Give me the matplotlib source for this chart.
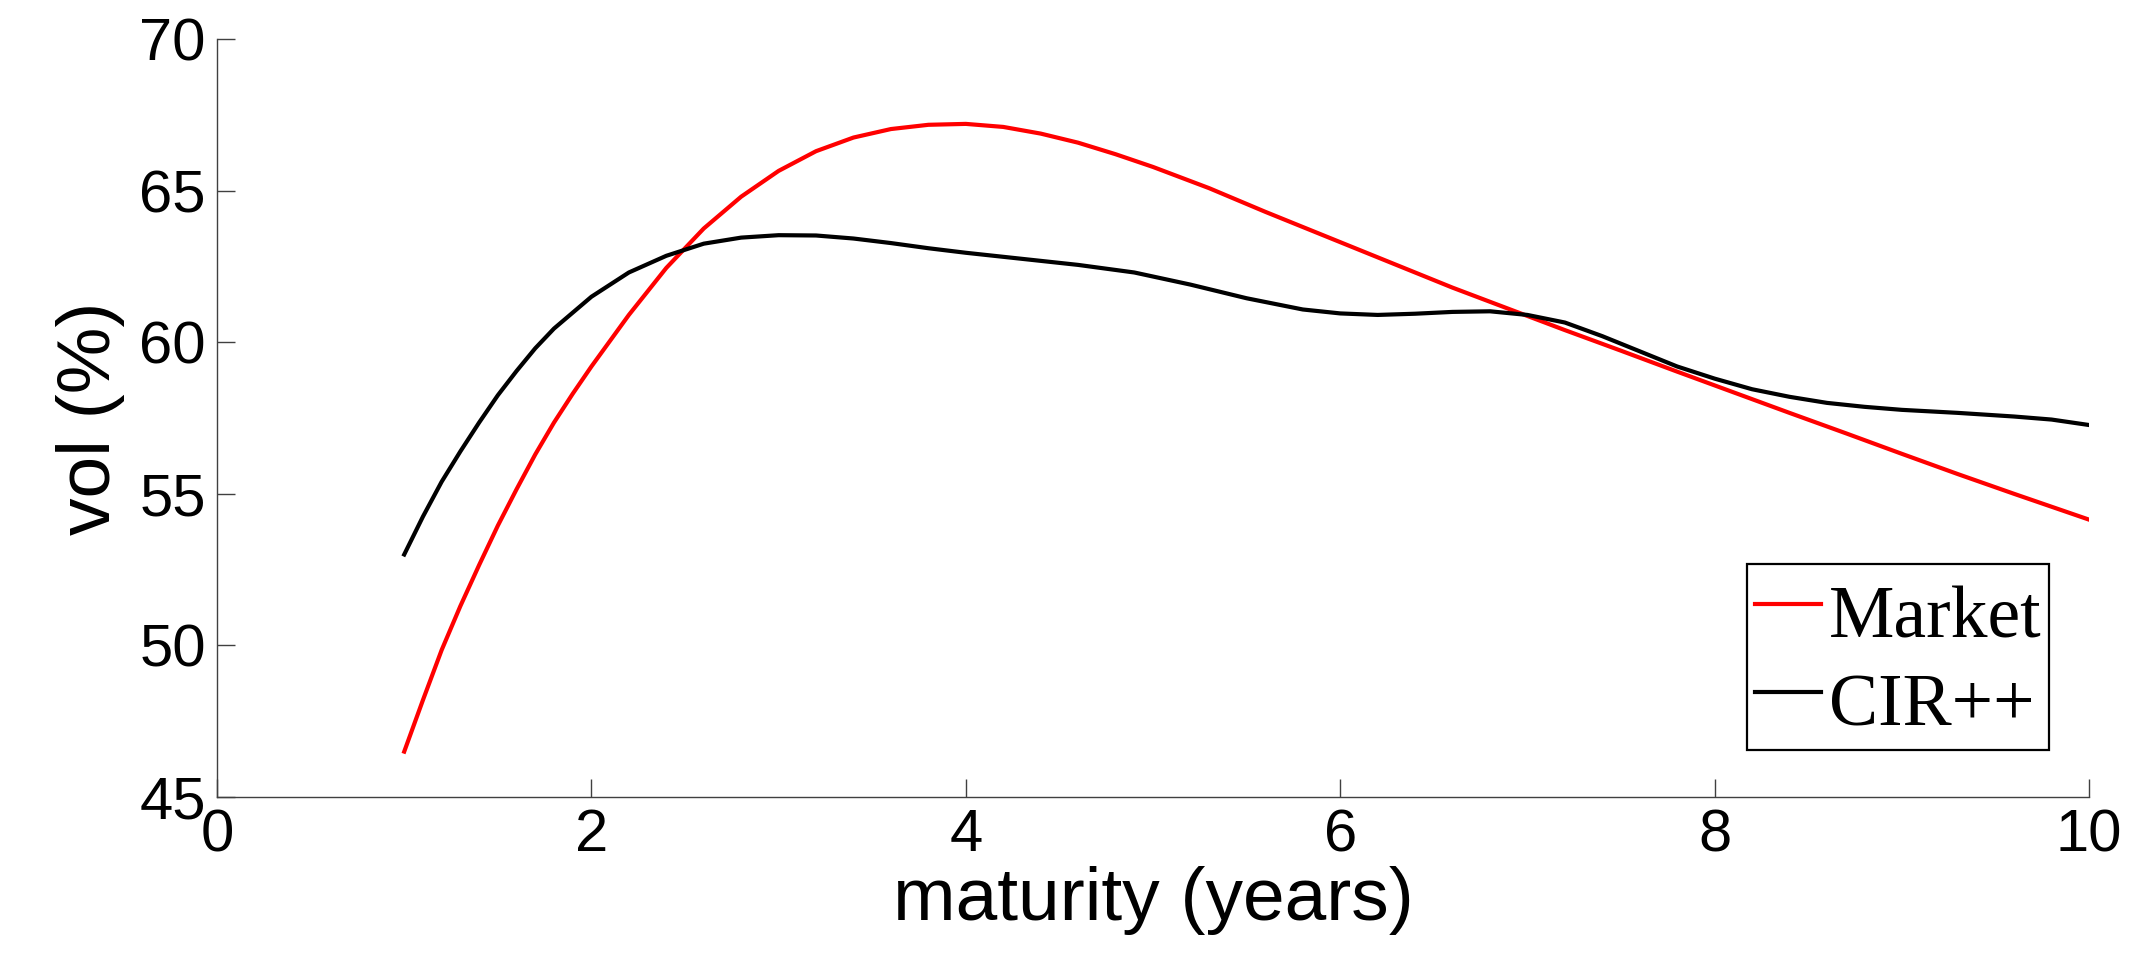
import numpy as np
import matplotlib.pyplot as plt

# maturity grid and vols (in %)
mat_market = [1.0, 1.1, 1.2, 1.3, 1.4, 1.5, 1.6, 1.7, 1.8, 1.9, 2.0, 2.2, 2.4, 2.6,
              2.8, 3.0, 3.2, 3.4, 3.6, 3.8, 4.0, 4.2, 4.4, 4.6, 4.8, 5.0, 5.3, 5.6,
              6.0, 6.3, 6.6, 6.9, 7.2, 7.5, 7.8, 8.1, 8.4, 8.7, 9.0, 9.3, 9.6, 10.0]
vol_market = [46.5, 48.2, 49.85, 51.3, 52.65, 53.95, 55.15, 56.3, 57.35, 58.3, 59.2,
              60.9, 62.45, 63.75, 64.8, 65.65, 66.3, 66.75, 67.03, 67.17, 67.2, 67.1,
              66.88, 66.58, 66.2, 65.78, 65.08, 64.3, 63.3, 62.55, 61.8, 61.1, 60.4,
              59.72, 59.03, 58.35, 57.67, 57.0, 56.32, 55.65, 55.0, 54.15]

mat_cir = [1.0, 1.1, 1.2, 1.3, 1.4, 1.5, 1.6, 1.7, 1.8, 2.0, 2.2, 2.4, 2.6, 2.8, 3.0,
           3.2, 3.4, 3.6, 3.8, 4.0, 4.3, 4.6, 4.9, 5.2, 5.5, 5.8, 6.0, 6.2, 6.4, 6.6,
           6.8, 7.0, 7.2, 7.4, 7.6, 7.8, 8.0, 8.2, 8.4, 8.6, 8.8, 9.0, 9.3, 9.6, 9.8,
           10.0]
vol_cir = [53.0, 54.25, 55.4, 56.4, 57.35, 58.25, 59.05, 59.8, 60.45, 61.5, 62.3, 62.85,
           63.25, 63.45, 63.53, 63.52, 63.42, 63.27, 63.1, 62.95, 62.75, 62.55, 62.3,
           61.9, 61.45, 61.08, 60.95, 60.9, 60.94, 61.0, 61.02, 60.9, 60.65, 60.2, 59.7,
           59.2, 58.8, 58.45, 58.2, 58.0, 57.87, 57.77, 57.67, 57.55, 57.45, 57.27]

xticks = [0, 2, 4, 6, 8, 10]
yticks = [45, 50, 55, 60, 65, 70]

fig = plt.figure(figsize=(21.36, 9.65), dpi=100)
ax = fig.add_axes([0.1016, 0.174, 0.8764, 0.7856])

ax.plot(mat_market, vol_market, color='red', linewidth=3.0, label='Market')
ax.plot(mat_cir, vol_cir, color='black', linewidth=3.0, label='CIR++')

ax.set_xlim(0, 10)
ax.set_ylim(45, 70)
ax.set_xticks(xticks)
ax.set_yticks(yticks)

for s in ['top', 'right']:
    ax.spines[s].set_visible(False)
for s in ['left', 'bottom']:
    ax.spines[s].set_color('#404040')
    ax.spines[s].set_linewidth(1.0)

ax.tick_params(direction='in', length=13, width=1.0, color='#404040',
               labelsize=43, pad=8)
for lbl in ax.get_xticklabels() + ax.get_yticklabels():
    lbl.set_family('Liberation Sans')

ax.set_xlabel('maturity (years)', fontsize=54, family='Liberation Sans', labelpad=2)
ax.set_ylabel('vol (%)', fontsize=54, family='Liberation Sans', labelpad=10)

leg = ax.legend(loc='lower right', bbox_to_anchor=(0.9786, 0.062), borderaxespad=0,
                prop={'family': 'Liberation Serif', 'size': 53},
                handlelength=0.9, handleheight=1.38, handletextpad=0.11,
                labelspacing=0.05, borderpad=0.1, fancybox=False, framealpha=1)
leg.get_frame().set_edgecolor('black')
leg.get_frame().set_linewidth(1.6)

fig.savefig('out.png', dpi=100)
